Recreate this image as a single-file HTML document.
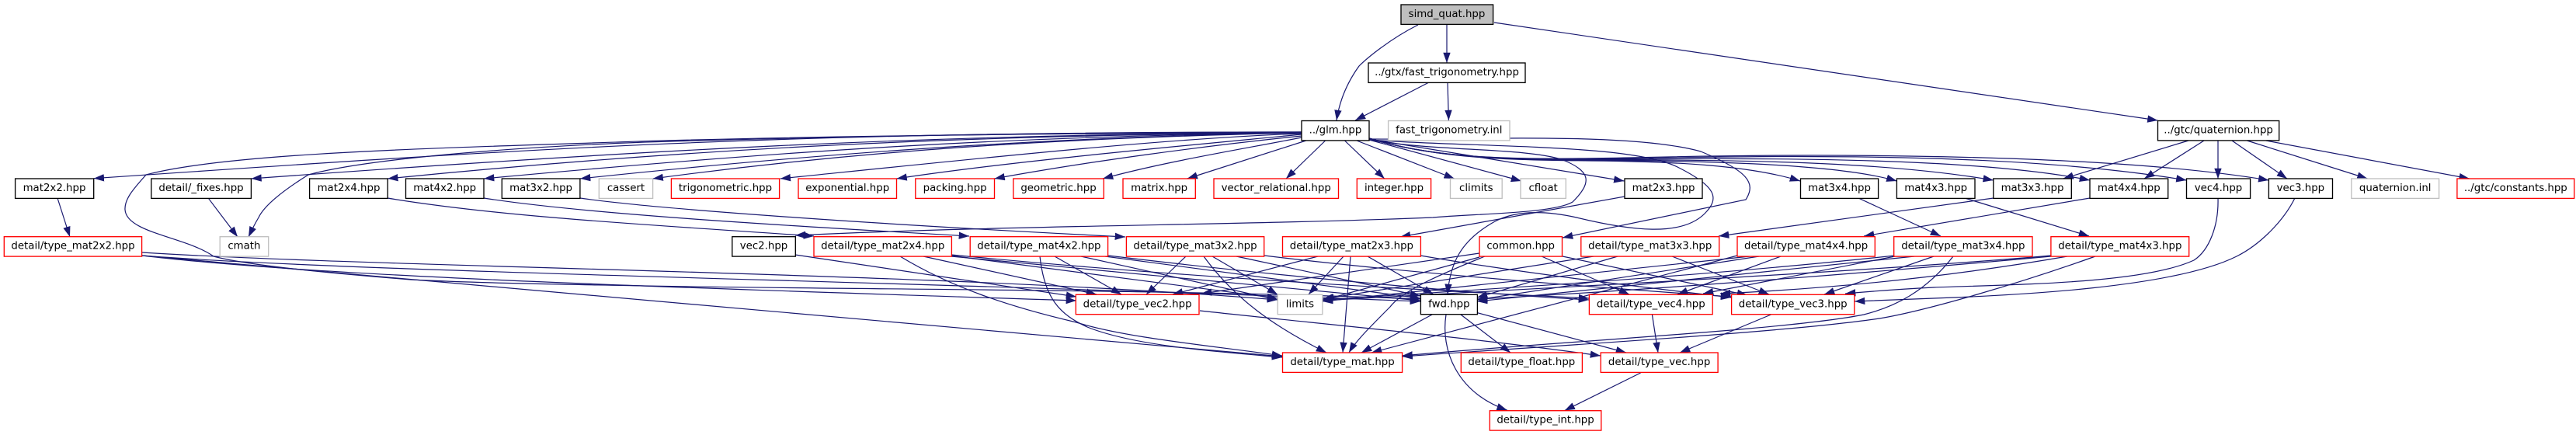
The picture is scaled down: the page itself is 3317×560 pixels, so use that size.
<!DOCTYPE html>
<html><head><meta charset="utf-8"><title>simd_quat.hpp</title>
<style>
html,body{margin:0;padding:0;background:#fff;width:3317px;height:560px;overflow:hidden}
svg{display:block}
.e path{fill:none;stroke:#191970;stroke-width:1.2;marker-end:url(#a)}
.n rect{fill:#fff;stroke-width:1.33}
.k rect{stroke:#000}.r rect{stroke:#f00}.g rect{stroke:#bfbfbf}
text{font-family:"DejaVu Sans",sans-serif;font-size:13.33px;text-anchor:middle;fill:#000}
</style></head><body>
<svg xmlns="http://www.w3.org/2000/svg" width="3317" height="560" viewBox="0 0 3317 560">
<defs><marker id="a" markerUnits="userSpaceOnUse" markerWidth="16" markerHeight="12" refX="13.3" refY="4.7" orient="auto"><path d="M0,0L13.3,4.7L0,9.4z" fill="#191970"/></marker></defs>
<g class="e">
<path d="M1826,32C1790,50 1760,75 1750,85C1732,110 1724,135 1721,155"/>
<path d="M1863,32L1863,81"/>
<path d="M1924,29L2778.5,155"/>
<path d="M1840,106L1745,155"/>
<path d="M1864,106L1865.4,155"/>
<path d="M2818,181L2656.7,230"/>
<path d="M2838,181L2761,230"/>
<path d="M2856,181L2856,230"/>
<path d="M2874,181L2945,230"/>
<path d="M2893.4,181L3048.5,230"/>
<path d="M2917.7,181L3179.8,230"/>
<path d="M1676,170C1000,170 700,190 120.7,229.7"/>
<path d="M1676,171C1200,172 800,195 323.4,230"/>
<path d="M1676,171C1250,174 900,190 499.2,230"/>
<path d="M1676,171C1300,175 1000,195 623,230"/>
<path d="M1676,171C1350,176 1050,198 747,230"/>
<path d="M1676,171C1350,178 1100,195 840.6,230"/>
<path d="M1676,172C1500,178 1250,205 1004.7,230"/>
<path d="M1676,173C1500,190 1300,208 1154.5,230"/>
<path d="M1676,175C1550,188 1400,208 1280.5,230"/>
<path d="M1676,177C1600,192 1500,208 1420,230"/>
<path d="M1681.7,181L1528.7,230"/>
<path d="M1706.6,181L1656,230"/>
<path d="M1731.5,181L1782.8,230"/>
<path d="M1747,181L1872.8,230"/>
<path d="M1763,180L1959,233"/>
<path d="M1763,179L2091.4,233"/>
<path d="M1763,178C1850,205 1950,206 2050,207C2150,208 2250,212 2318,233"/>
<path d="M1763,178C1850,205 1950,206 2100,207C2250,208 2380,215 2442.4,233"/>
<path d="M1763,178C1850,205 1950,206 2100,206C2300,206 2450,212 2566.8,232"/>
<path d="M1763,178C1850,205 1950,206 2100,205C2300,203 2550,204 2691,232"/>
<path d="M1763,178C1850,205 1950,206 2100,204C2300,200 2600,196 2815.5,232"/>
<path d="M1763,178C1850,205 1950,206 2100,203C2300,198 2700,195 2921.4,232"/>
<path d="M1676,170C1400,172 1100,174 830,181.7C600,190 300,195 188,225C175,240 160,255 161,270C163,300 240,305 275,330C320,342 430,352 529,360C630,365 730,366 830,368C1100,373 1500,372 1829,385"/>
<path d="M1676,170C1300,170 1000,178 830,183C650,190 470,205 397,225C365,245 340,265 333,280Q327,290 320,305"/>
<path d="M268.4,255.3L306,305"/>
<path d="M74,255L90,305"/>
<path d="M1763,180C1850,195 1960,190 2010,205C2050,220 2050,235 2025,260C2000,275 1900,275 1845,280C1600,290 1300,290 1024,303"/>
<path d="M1763,180C1900,190 2100,185 2160,215C2210,240 2215,255 2195,275C2165,305 2100,297 2030,280C1985,270 1950,272 1925,285C1880,310 1867,340 1864,379"/>
<path d="M1763,179C1900,180 2100,170 2190,195C2250,220 2262,235 2248,257L2012,306"/>
<path d="M2092,253L1803,305"/>
<path d="M2393,255L2499,304"/>
<path d="M2530,255L2690,304"/>
<path d="M2567,255L2213,304"/>
<path d="M2691,255L2400,304"/>
<path d="M499,255C650,280 850,290 1048,304"/>
<path d="M623,255C750,275 1000,290 1248,304"/>
<path d="M747,255C850,270 1150,290 1449,305"/>
<path d="M2856,255C2857,290 2845,322 2825,335C2760,365 2600,366 2490,370C2450,372 2410,375 2376,378"/>
<path d="M2955,255C2940,285 2910,315 2880,330C2800,370 2600,380 2490,384L2388,388"/>
<path d="M1024,328L1386,382"/>
<path d="M183,325C500,345 1200,350 1645,386"/>
<path d="M183,329C450,350 1100,360 1829,388"/>
<path d="M183,329C400,355 800,368 1386,387"/>
<path d="M183,329L1651.5,459"/>
<path d="M1159,330C1225,370 1300,395 1386,415C1450,435 1560,445 1651,458"/>
<path d="M1189,330L1412,379"/>
<path d="M1224,329L1645,384"/>
<path d="M1225,330L1829,387"/>
<path d="M1225,328C1500,355 1800,372 2046,384"/>
<path d="M1339,330C1345,385 1365,405 1400,421C1460,445 1560,452 1651,460"/>
<path d="M1358,330L1444,379"/>
<path d="M1392,330L1645,386"/>
<path d="M1423,330L1829,384"/>
<path d="M1427,329C1600,350 1850,375 2046,386"/>
<path d="M1527,330L1476,379"/>
<path d="M1561,330L1645,379"/>
<path d="M1550,330C1590,385 1640,420 1708,454"/>
<path d="M1592,330L1829,381"/>
<path d="M1628,329C1800,350 2050,370 2229,382"/>
<path d="M1697,330L1510,379"/>
<path d="M1730,330L1685,379"/>
<path d="M1739,330L1729,454"/>
<path d="M1761,330L1846,379"/>
<path d="M1829,329C1950,350 2100,368 2229,383"/>
<path d="M1905,326L1547,378"/>
<path d="M1905,331L1705,386"/>
<path d="M1912,330C1850,355 1805,375 1790,395C1765,420 1745,440 1737,454"/>
<path d="M1985,330L2098,379"/>
<path d="M2012,330L2250,380"/>
<path d="M2052,330L1703,385"/>
<path d="M2083,330L1902,383"/>
<path d="M2153,330L2278,379"/>
<path d="M2237,329L1766,454"/>
<path d="M2253,330L1703,388"/>
<path d="M2265,330L1902,386"/>
<path d="M2293,330L2160,379"/>
<path d="M2440,329C2200,355 1950,370 1703,386"/>
<path d="M2440,330L2193,378"/>
<path d="M2465,330L1902,388"/>
<path d="M2490,330L2349,379"/>
<path d="M2515,330C2480,375 2440,395 2400,405C2300,425 2000,440 1805.6,458"/>
<path d="M2641,329C2400,350 2000,370 1703,387"/>
<path d="M2641,330C2400,352 2100,375 1902,385"/>
<path d="M2662,330C2500,358 2350,372 2215,378"/>
<path d="M2698,330C2600,365 2480,400 2420,410C2300,428 2000,445 1805.6,459"/>
<path d="M1545,400C1700,417 1900,435 2061,458"/>
<path d="M1902.4,402.7L2094,454"/>
<path d="M1881,405L1945,454"/>
<path d="M1844,405L1753,454"/>
<path d="M1862,405C1855,450 1875,505 1940.6,528"/>
<path d="M2112.6,480L2014.7,528.5"/>
<path d="M2127.4,405L2135,454"/>
<path d="M2280.4,405L2163,454"/>
</g>
<g class="n">
<g class="k"><rect x="1804" y="6" width="118.6" height="25.4" style="fill:#bfbfbf"/><text x="1863" y="22">simd_quat.hpp</text></g>
<g class="k"><rect x="1762" y="81" width="202" height="25.4"/><text x="1863" y="97">../gtx/fast_trigonometry.hpp</text></g>
<g class="k"><rect x="1676" y="155.5" width="87" height="25.4"/><text x="1719.5" y="171.5">../glm.hpp</text></g>
<g class="g"><rect x="1787.6" y="155.5" width="156.4" height="25.4"/><text x="1865.8" y="171.5">fast_trigonometry.inl</text></g>
<g class="k"><rect x="2778.5" y="155.5" width="156.2" height="25.4"/><text x="2856.6" y="171.5">../gtc/quaternion.hpp</text></g>

<g class="k"><rect x="19.6" y="230" width="101.1" height="25.4"/><text x="70" y="246">mat2x2.hpp</text></g>
<g class="k"><rect x="194.8" y="230" width="128.6" height="25.4"/><text x="259" y="246">detail/_fixes.hpp</text></g>
<g class="k"><rect x="398.6" y="230" width="100.6" height="25.4"/><text x="449" y="246">mat2x4.hpp</text></g>
<g class="k"><rect x="522.5" y="230" width="100.5" height="25.4"/><text x="572.7" y="246">mat4x2.hpp</text></g>
<g class="k"><rect x="646.3" y="230" width="100.6" height="25.4"/><text x="696.6" y="246">mat3x2.hpp</text></g>
<g class="g"><rect x="771.3" y="230" width="69.3" height="25.4"/><text x="806" y="246">cassert</text></g>
<g class="r"><rect x="864.4" y="230" width="139.2" height="25.4"/><text x="934" y="246">trigonometric.hpp</text></g>
<g class="r"><rect x="1028" y="230" width="126.5" height="25.4"/><text x="1091.2" y="246">exponential.hpp</text></g>
<g class="r"><rect x="1178.8" y="230" width="101.7" height="25.4"/><text x="1229.6" y="246">packing.hpp</text></g>
<g class="r"><rect x="1304.8" y="230" width="116.5" height="25.4"/><text x="1363" y="246">geometric.hpp</text></g>
<g class="r"><rect x="1446" y="230" width="93.3" height="25.4"/><text x="1492.6" y="246">matrix.hpp</text></g>
<g class="r"><rect x="1563" y="230" width="160.5" height="25.4"/><text x="1643.2" y="246">vector_relational.hpp</text></g>
<g class="r"><rect x="1747.3" y="230" width="95.3" height="25.4"/><text x="1795" y="246">integer.hpp</text></g>
<g class="g"><rect x="1867.5" y="230" width="66.7" height="25.4"/><text x="1900.8" y="246">climits</text></g>
<g class="g"><rect x="1958" y="230" width="58.3" height="25.4"/><text x="1987.1" y="246">cfloat</text></g>
<g class="k"><rect x="2092" y="230" width="100" height="25.4"/><text x="2142" y="246">mat2x3.hpp</text></g>
<g class="k"><rect x="2318.5" y="230" width="100.1" height="25.4"/><text x="2368.5" y="246">mat3x4.hpp</text></g>
<g class="k"><rect x="2442.4" y="230" width="100.6" height="25.4"/><text x="2492.7" y="246">mat4x3.hpp</text></g>
<g class="k"><rect x="2566.8" y="230" width="100.5" height="25.4"/><text x="2617" y="246">mat3x3.hpp</text></g>
<g class="k"><rect x="2691" y="230" width="100.7" height="25.4"/><text x="2741.3" y="246">mat4x4.hpp</text></g>
<g class="k"><rect x="2815.5" y="230" width="82.1" height="25.4"/><text x="2856.5" y="246">vec4.hpp</text></g>
<g class="k"><rect x="2921.4" y="230" width="82.1" height="25.4"/><text x="2962.4" y="246">vec3.hpp</text></g>
<g class="g"><rect x="3027.8" y="230" width="112.8" height="25.4"/><text x="3084.2" y="246">quaternion.inl</text></g>
<g class="r"><rect x="3163.9" y="230" width="150.8" height="25.4"/><text x="3239.3" y="246">../gtc/constants.hpp</text></g>

<g class="r"><rect x="5.3" y="304.7" width="177.3" height="25.4"/><text x="94" y="320.7">detail/type_mat2x2.hpp</text></g>
<g class="g"><rect x="283.2" y="304.7" width="62.5" height="25.4"/><text x="314.4" y="320.7">cmath</text></g>
<g class="k"><rect x="942.8" y="304.7" width="81.5" height="25.4"/><text x="983.5" y="320.7">vec2.hpp</text></g>
<g class="r"><rect x="1048" y="304.7" width="177.4" height="25.4"/><text x="1136.7" y="320.7">detail/type_mat2x4.hpp</text></g>
<g class="r"><rect x="1249.2" y="304.7" width="177.4" height="25.4"/><text x="1337.9" y="320.7">detail/type_mat4x2.hpp</text></g>
<g class="r"><rect x="1450.4" y="304.7" width="177.3" height="25.4"/><text x="1539" y="320.7">detail/type_mat3x2.hpp</text></g>
<g class="r"><rect x="1651.5" y="304.7" width="177.9" height="25.4"/><text x="1740.4" y="320.7">detail/type_mat2x3.hpp</text></g>
<g class="r"><rect x="1905" y="304.7" width="106.5" height="25.4"/><text x="1958.2" y="320.7">common.hpp</text></g>
<g class="r"><rect x="2035.8" y="304.7" width="177.9" height="25.4"/><text x="2124.7" y="320.7">detail/type_mat3x3.hpp</text></g>
<g class="r"><rect x="2237" y="304.7" width="177.3" height="25.4"/><text x="2325.6" y="320.7">detail/type_mat4x4.hpp</text></g>
<g class="r"><rect x="2438.7" y="304.7" width="178.3" height="25.4"/><text x="2527.8" y="320.7">detail/type_mat3x4.hpp</text></g>
<g class="r"><rect x="2640.9" y="304.7" width="177.8" height="25.4"/><text x="2729.8" y="320.7">detail/type_mat4x3.hpp</text></g>

<g class="r"><rect x="1385.3" y="379.3" width="158.7" height="25.4"/><text x="1464.6" y="395.3">detail/type_vec2.hpp</text></g>
<g class="g"><rect x="1645.2" y="379.3" width="57.7" height="25.4"/><text x="1674" y="395.3">limits</text></g>
<g class="k"><rect x="1829.4" y="379.3" width="73" height="25.4"/><text x="1865.9" y="395.3">fwd.hpp</text></g>
<g class="r"><rect x="2046.4" y="379.3" width="158.8" height="25.4"/><text x="2125.8" y="395.3">detail/type_vec4.hpp</text></g>
<g class="r"><rect x="2229.6" y="379.3" width="158.2" height="25.4"/><text x="2308.7" y="395.3">detail/type_vec3.hpp</text></g>

<g class="r"><rect x="1651.5" y="454" width="154.1" height="25.4"/><text x="1728.5" y="470">detail/type_mat.hpp</text></g>
<g class="r"><rect x="1881.3" y="454" width="156.1" height="25.4"/><text x="1959.3" y="470">detail/type_float.hpp</text></g>
<g class="r"><rect x="2061.2" y="454" width="150.9" height="25.4"/><text x="2136.6" y="470">detail/type_vec.hpp</text></g>
<g class="r"><rect x="1918.3" y="528.7" width="143.5" height="25.4"/><text x="1990" y="544.7">detail/type_int.hpp</text></g>
</g>
</svg>
</body></html>
